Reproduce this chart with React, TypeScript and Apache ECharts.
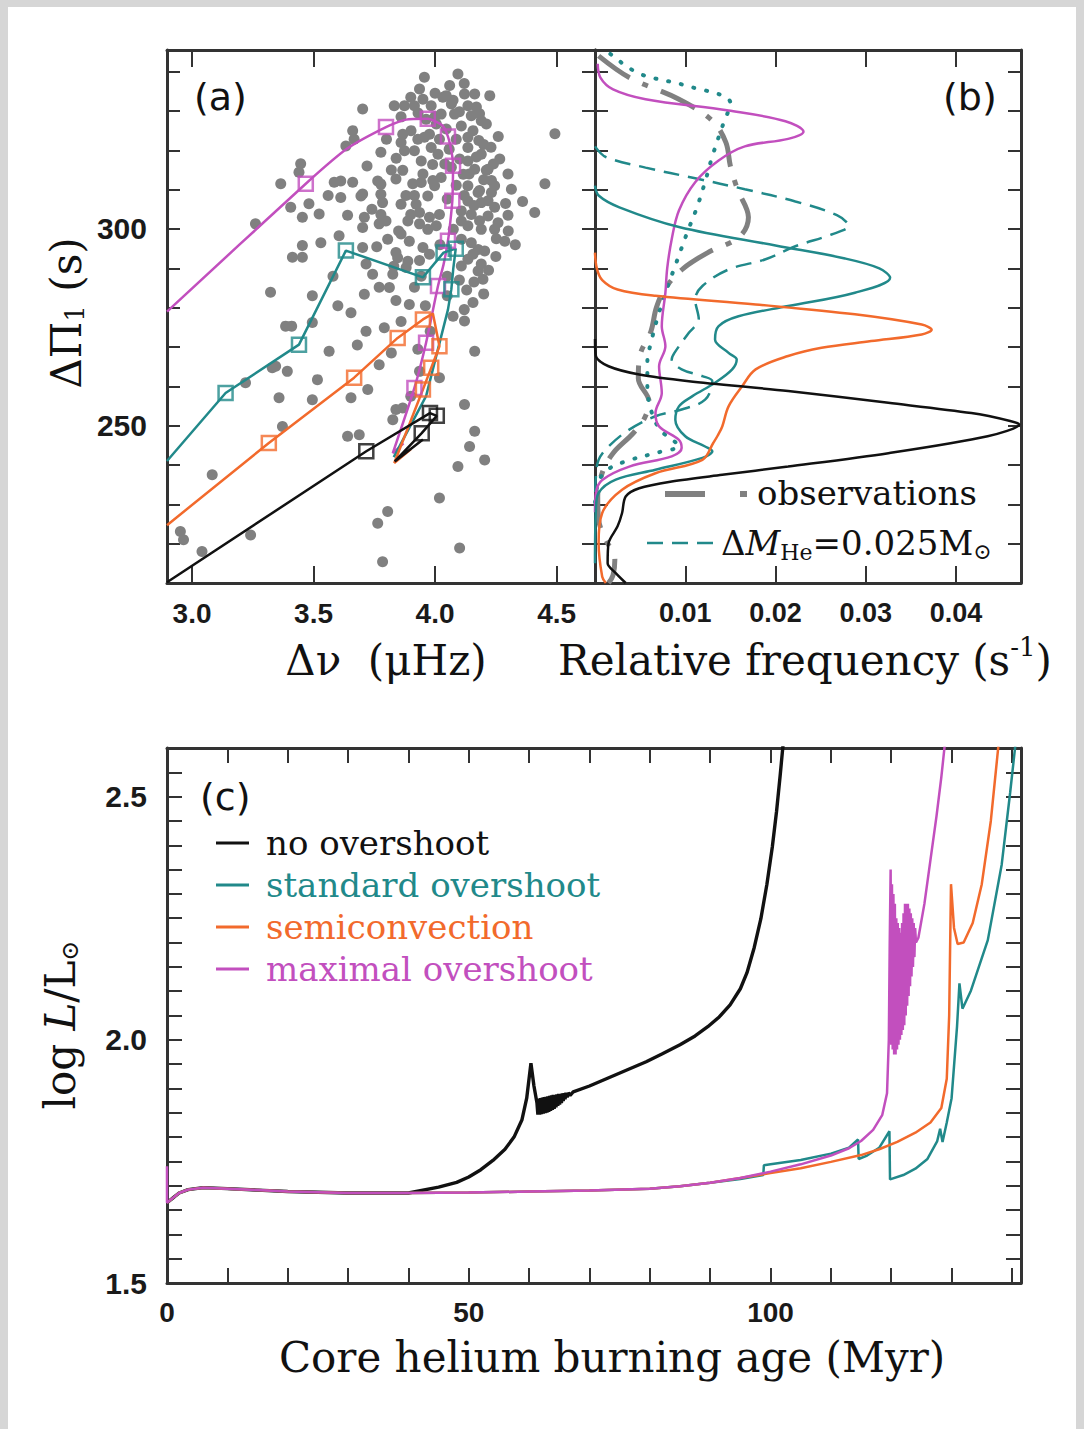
import React, { useEffect, useRef } from 'react';
import * as echarts from 'echarts';

const TEAL = '#21898a';
const ORANGE = '#f26a2c';
const MAGENTA = '#c24fbe';
const BLACK = '#111111';
const GRAY = '#808080';
const FRAME = '#333333';

// ---------- Panel (a): observed stars (Δν μHz, ΔΠ1 s) ----------
const observedStars: number[][] = [
  [4.094, 339.4], [3.956, 338.6], [3.936, 335.6], [3.702, 330.5], [4.046, 333.9], [4.121, 334.3], [4.163, 334.3], [4.225, 333.9],
  [3.832, 331.3], [3.874, 331.3], [3.915, 331.3], [3.984, 331.3], [4.067, 331.8], [4.135, 331.3], [4.025, 329.2], [4.080, 329.2],
  [4.149, 328.8], [4.190, 327.5], [4.108, 326.2], [4.156, 325.0], [4.135, 323.3], [3.867, 324.1], [3.901, 325.0], [3.860, 322.0],
  [3.929, 322.8], [3.956, 323.3], [3.661, 325.0], [3.667, 322.8], [3.633, 321.1], [3.777, 319.5], [3.874, 319.9], [3.915, 319.9],
  [3.943, 317.3], [3.984, 320.7], [4.012, 319.0], [4.135, 320.7], [4.190, 319.0], [4.135, 317.3], [4.266, 317.8], [4.218, 315.2],
  [4.163, 315.2], [3.764, 312.2], [3.839, 312.7], [3.612, 312.2], [4.025, 313.1],
  [3.612, 308.0], [3.695, 308.4], [3.777, 311.4], [3.777, 308.8], [3.784, 306.7], [3.777, 303.7], [3.798, 302.0], [3.860, 306.3],
  [3.922, 306.3], [3.936, 304.2], [3.888, 302.0], [3.998, 311.0], [3.970, 308.4], [3.943, 311.8], [4.135, 311.0], [4.177, 309.3],
  [4.232, 309.3], [4.245, 311.0], [4.314, 310.1], [4.135, 307.1], [4.190, 306.7], [4.108, 304.6], [4.018, 303.7], [4.005, 300.8],
  [3.970, 299.9], [4.108, 302.0], [4.135, 300.8], [4.218, 303.3], [4.259, 301.6], [4.190, 299.9], [4.245, 299.9], [4.301, 299.5],
  [4.410, 304.2], [3.702, 300.4], [3.805, 297.4], [3.894, 296.9], [3.950, 295.3], [3.839, 294.0], [3.888, 291.8], [3.846, 292.7],
  [4.108, 297.4], [4.149, 296.5], [4.177, 294.8], [4.204, 294.4], [4.287, 296.9], [4.135, 292.3], [4.108, 290.6], [4.177, 289.3],
  [4.197, 287.2], [3.812, 285.1], [3.709, 283.4], [3.894, 280.8], [4.156, 281.3], [3.943, 288.0],
  [4.493, 324.2], [4.452, 311.5],
  [3.447, 316.6], [3.440, 314.4], [3.365, 311.5], [3.261, 301.3], [3.406, 305.5], [3.454, 303.0], [3.481, 306.4], [3.523, 303.8],
  [3.585, 311.9], [3.454, 295.8], [3.413, 292.8], [3.454, 292.8], [3.323, 283.9], [3.495, 283.0],
  [4.183, 329.3], [4.211, 326.7], [4.032, 333.5], [4.074, 332.7], [4.170, 318.3], [4.211, 314.9], [4.232, 312.3], [4.183, 309.8],
  [4.218, 307.2], [4.245, 305.5], [4.183, 302.1], [4.252, 297.5], [4.190, 291.1], [4.156, 293.6],
  [3.867, 314.9], [3.908, 311.5], [3.915, 308.5], [3.991, 312.3], [3.977, 303.0], [3.936, 301.3], [3.860, 298.7], [3.881, 290.2],
  [3.936, 292.0], [3.977, 293.6], [3.915, 285.2], [3.839, 281.8], [3.743, 288.5], [3.770, 285.2], [3.826, 288.5],
  [3.661, 311.9], [3.702, 308.9], [3.709, 303.0], [3.770, 301.3], [3.702, 295.3], [3.605, 298.3], [3.716, 291.1],
  [3.963, 327.9], [4.005, 326.7], [4.046, 325.4], [4.087, 322.8], [4.058, 320.3], [4.101, 317.8], [4.116, 313.9], [4.067, 315.7],
  [3.977, 324.1], [4.018, 322.8], [4.087, 311.1], [4.050, 307.6], [4.075, 299.9], [4.149, 303.7],
  [3.654, 278.7], [3.716, 274.0], [3.791, 274.9], [3.385, 275.3], [3.410, 275.3], [3.495, 276.2], [3.564, 268.9], [3.392, 263.8],
  [3.344, 265.1], [3.516, 261.7], [3.495, 256.6], [3.358, 257.1], [3.654, 257.1], [3.723, 259.2], [3.770, 265.5], [3.929, 269.4],
  [3.936, 263.8], [4.018, 262.2], [4.163, 268.9], [4.121, 276.6], [4.074, 277.8], [4.121, 255.4], [4.163, 248.6], [4.142, 244.7],
  [4.204, 241.3], [4.094, 239.6], [4.018, 231.6], [3.805, 228.2], [3.764, 225.2], [3.784, 215.4], [4.101, 218.9], [3.083, 237.5],
  [2.952, 223.1], [2.965, 221.0], [3.041, 218.0], [3.241, 222.2], [3.640, 247.3], [3.688, 247.7], [3.839, 254.1], [3.867, 254.5],
  [3.826, 251.5], [3.372, 249.8], [3.220, 260.9], [3.330, 264.7], [3.900, 257.5],
  [3.90, 333.5], [3.95, 333.0], [4.00, 334.5], [4.06, 336.5], [4.12, 337.0], [3.86, 328.5], [3.93, 329.5], [4.00, 328.6],
  [4.10, 329.8], [4.17, 331.0], [3.80, 322.8], [3.84, 318.0], [3.99, 316.4], [4.04, 316.5], [4.18, 322.5], [4.23, 320.8],
  [4.26, 323.5], [4.30, 314.0], [4.29, 306.5], [4.25, 293.0], [4.22, 289.5], [4.16, 286.5], [4.13, 284.5], [4.20, 283.5],
  [4.12, 279.5], [4.10, 287.0], [4.24, 316.5], [4.20, 321.5], [4.14, 314.0], [4.12, 308.5], [4.16, 306.0], [4.20, 312.5],
  [3.72, 316.0], [3.74, 305.0], [3.64, 303.5], [3.56, 308.5], [3.53, 296.5], [3.58, 288.0], [3.60, 280.5], [3.68, 270.5],
  [3.82, 268.5], [3.86, 276.5], [3.96, 280.5], [3.98, 274.0], [4.05, 283.0], [3.88, 308.5], [3.82, 315.0], [3.95, 314.0],
  [3.90, 303.7], [3.85, 299.5], [4.02, 296.0], [4.05, 288.0], [3.76, 295.5], [3.83, 290.5], [4.30, 303.5], [4.33, 296.0],
  [4.36, 307.0],
];

// model tracks in panel (a)
const maximalTrack: number[][] = [
  [2.897, 279.0], [3.468, 311.5], [3.64, 320.5], [3.798, 325.9], [3.88, 327.8], [3.970, 328.0], [4.03, 326.3], [4.053, 323.5],
  [4.068, 319.5], [4.074, 316.1], [4.073, 311.0], [4.071, 307.2], [4.063, 302.0], [4.053, 297.0], [4.035, 291.0], [4.012, 285.5],
  [3.963, 271.1], [3.915, 259.6], [3.826, 243.0], [3.87, 245.5],
];
const maximalSquares: number[][] = [
  [3.468, 311.5], [3.798, 325.9], [3.970, 328.0], [4.053, 323.5], [4.074, 316.1], [4.071, 307.2], [4.053, 297.0], [4.012, 285.5],
  [3.963, 271.1], [3.915, 259.6],
];
const standardTrack: number[][] = [
  [2.897, 241.0], [3.138, 258.3], [3.440, 270.6], [3.633, 294.5], [3.950, 287.7], [4.035, 294.0], [4.085, 295.0], [4.075, 290.0],
  [4.067, 284.7], [4.053, 279.5], [3.963, 257.5], [3.830, 242.0],
];
const standardSquares: number[][] = [
  [3.138, 258.3], [3.440, 270.6], [3.633, 294.5], [3.950, 287.7], [4.035, 294.0], [4.085, 295.0], [4.067, 284.7],
];
const semiconvTrack: number[][] = [
  [2.897, 224.7], [3.316, 245.6], [3.667, 262.2], [3.846, 272.3], [3.950, 277.0], [3.991, 278.5], [4.018, 270.2], [3.984, 264.7],
  [3.950, 259.2], [3.832, 240.5], [3.90, 244.0],
];
const semiconvSquares: number[][] = [
  [3.316, 245.6], [3.667, 262.2], [3.846, 272.3], [3.950, 277.0], [4.018, 270.2], [3.984, 264.7], [3.950, 259.2],
];
const noOvershootTrack: number[][] = [
  [2.897, 210.2], [3.717, 243.5], [3.979, 253.2], [4.007, 252.5], [3.945, 248.1], [3.834, 240.9], [3.95, 246.5],
];
const noOvershootSquares: number[][] = [[3.717, 243.5], [3.979, 253.2], [4.007, 252.5], [3.945, 248.1]];

// ---------- Panel (b): relative frequency (s^-1, ΔΠ1 s) ----------
const obsFreq: number[][] = [
  [0.0004, 344], [0.0038, 338.5], [0.0093, 333], [0.0130, 327.5], [0.0145, 322], [0.0150, 316], [0.0158, 310], [0.0170, 303],
  [0.0160, 298], [0.0125, 294], [0.0098, 290], [0.0078, 285], [0.0068, 280], [0.0062, 274], [0.0050, 268], [0.0048, 262],
  [0.0060, 256], [0.0055, 252], [0.0042, 248], [0.0020, 243], [0.0008, 238], [0.0003, 232], [0.0004, 226], [0.0012, 221],
  [0.0022, 216], [0.0020, 212], [0.0015, 210],
];
const dottedFreq: number[][] = [
  [0.0017, 344.5], [0.0049, 339.5], [0.0100, 336.5], [0.0150, 332], [0.0141, 326], [0.0130, 318.5], [0.0122, 312], [0.0113, 305.5],
  [0.0102, 299], [0.0091, 292], [0.0080, 285], [0.0070, 278], [0.0063, 272], [0.0058, 266], [0.0058, 260], [0.0062, 254],
  [0.0072, 249], [0.0088, 246], [0.0093, 244.8], [0.0070, 243.2], [0.0035, 241], [0.0012, 238.5], [0.0003, 235], [0, 230],
];
const heliumFreq: number[][] = [
  [0, 321], [0.0012, 318.3], [0.0056, 315.6], [0.0111, 312.9], [0.0166, 310.1], [0.0222, 307.0], [0.0268, 303.5], [0.0281, 300.8],
  [0.0262, 298.6], [0.0222, 295.6], [0.0189, 292.3], [0.0148, 289.7], [0.0119, 285.5], [0.0111, 282.1], [0.0115, 277.0],
  [0.0104, 273.6], [0.0088, 268.5], [0.0085, 266.8], [0.0096, 264.3], [0.0119, 262.6], [0.0130, 261.3], [0.0122, 256.6],
  [0.0096, 254.1], [0.0067, 252.4], [0.0038, 249.0], [0.0015, 244.7], [0.0004, 241.3], [0.0001, 237.1], [0, 230],
];
const maximalFreq: number[][] = [
  [0.0003, 342], [0.0006, 338.5], [0.0020, 335.5], [0.0056, 333], [0.0148, 330.1], [0.0211, 327.4], [0.0231, 324.7], [0.0214, 322.9],
  [0.0166, 321.0], [0.0137, 317.4], [0.0111, 311.9], [0.0093, 304.7], [0.0085, 297.4], [0.0080, 290], [0.0078, 283.8],
  [0.0074, 275.3], [0.0078, 270.2], [0.0071, 265.1], [0.0074, 258.3], [0.0067, 253.2], [0.0071, 249.8], [0.0093, 246.4],
  [0.0096, 244.3], [0.0085, 242.2], [0.0038, 239.6], [0.0008, 236.2], [0.0001, 232.9], [0, 228],
];
const standardFreq: number[][] = [
  [0, 311], [0.0004, 308.5], [0.0027, 305.5], [0.0093, 300.5], [0.0200, 295.8], [0.0277, 292.5], [0.0315, 290], [0.0327, 287.6],
  [0.0288, 283.8], [0.0214, 280.4], [0.0159, 277.8], [0.0137, 275.3], [0.0133, 271.9], [0.0148, 268.5], [0.0157, 266.8],
  [0.0152, 264.3], [0.0133, 260.9], [0.0108, 257.5], [0.0093, 254.9], [0.0089, 251.5], [0.0100, 247.3], [0.0122, 244.7],
  [0.0130, 243.5], [0.0119, 241.8], [0.0067, 238.8], [0.0023, 236.3], [0.0004, 232.9], [0.0001, 228.6], [0, 215],
];
const semiconvFreq: number[][] = [
  [0, 294], [0.0002, 290], [0.0008, 287.0], [0.0025, 284.6], [0.0067, 283.0], [0.0178, 280.8], [0.0288, 278.3], [0.0362, 275.7],
  [0.0373, 274.4], [0.0362, 273.2], [0.0306, 271.5], [0.0251, 269.8], [0.0214, 267.7], [0.0178, 264.3], [0.0163, 260.0],
  [0.0148, 254.9], [0.0141, 249.8], [0.0136, 247.5], [0.0131, 245.6], [0.0119, 241.3], [0.0067, 237.9], [0.0030, 233.7],
  [0.0008, 227.8], [0.0004, 220.1], [0.0008, 211.6], [0.0012, 210],
];
const noOvershootFreq: number[][] = [
  [0, 272], [0.0001, 267.7], [0.0015, 265.1], [0.0049, 263.0], [0.0104, 261.3], [0.0214, 258.8], [0.0325, 255.8], [0.0417, 253.2],
  [0.0460, 251.2], [0.0470, 250.3], [0.0435, 247.3], [0.0325, 243.0], [0.0214, 239.6], [0.0141, 237.5], [0.0085, 235.8],
  [0.0049, 234.1], [0.0034, 232.0], [0.0030, 227.8], [0.0025, 224.4], [0.0015, 220.1], [0.0014, 215.0], [0.0023, 212.5],
  [0.0034, 210.0],
];

// ---------- Panel (c): luminosity vs core He burning age (Myr, log L/Lsun) ----------
const earlyPhase: number[][] = [
  [0, 1.665], [1, 1.675], [2, 1.685], [3.5, 1.692], [6, 1.696], [10, 1.694], [15, 1.691], [20, 1.688], [30, 1.685], [40, 1.685],
];
const noOvershootLum: number[][] = [
  [45, 1.697], [48, 1.707], [50, 1.718], [52, 1.733], [54, 1.752], [56, 1.775], [57.5, 1.80], [58.8, 1.835], [59.6, 1.88],
  [60.3, 1.952], [60.8, 1.905], [61.3, 1.870], [61.45, 1.846], [61.6, 1.879], [61.75, 1.846], [61.9, 1.880], [62.05, 1.847],
  [62.2, 1.881], [62.35, 1.848], [62.5, 1.882], [62.65, 1.849], [62.8, 1.883], [62.95, 1.850], [63.1, 1.884], [63.25, 1.852],
  [63.4, 1.885], [63.55, 1.854], [63.7, 1.886], [63.85, 1.856], [64.0, 1.887], [64.15, 1.858], [64.3, 1.887], [64.45, 1.861],
  [64.6, 1.888], [64.75, 1.864], [64.9, 1.889], [65.05, 1.867], [65.2, 1.889], [65.35, 1.870], [65.5, 1.890], [65.65, 1.874],
  [65.8, 1.890], [65.95, 1.878], [66.1, 1.891], [66.3, 1.882], [66.5, 1.891], [66.8, 1.886], [67.3, 1.893],
  [70, 1.905], [73, 1.921], [76, 1.937], [79.4, 1.955], [82, 1.971], [85, 1.990], [87.5, 2.008], [89.6, 2.027], [91.5, 2.047],
  [93.3, 2.072], [95, 2.105], [96.1, 2.138], [97.3, 2.19], [98.4, 2.249], [99.4, 2.32], [100.3, 2.397], [101, 2.47],
  [101.6, 2.544], [102.1, 2.61],
];
const mainSequenceLate: number[][] = [
  [50, 1.686], [60, 1.688], [70, 1.690], [80, 1.694], [85, 1.699], [90, 1.706],
];
const standardLum: number[][] = [
  [95, 1.714], [98.8, 1.722], [98.9, 1.742], [100, 1.744], [105, 1.753], [110, 1.766], [113, 1.778], [114.5, 1.795],
  [114.6, 1.755], [116, 1.762], [118, 1.778], [119.7, 1.812], [119.8, 1.713], [122, 1.722], [124, 1.735], [126, 1.755],
  [127.6, 1.791], [128.1, 1.817], [128.5, 1.790], [129.2, 1.83], [130, 1.88], [130.9, 2.027], [131.3, 2.116], [131.8, 2.064],
  [133.2, 2.101], [136, 2.205], [138.3, 2.36], [139.7, 2.508], [140.6, 2.61],
];
const semiconvLum: number[][] = [
  [95, 1.716], [100, 1.726], [105, 1.736], [110, 1.749], [115, 1.763], [118, 1.775], [121, 1.790], [124, 1.809], [126.5, 1.830],
  [128.3, 1.86], [129.2, 1.92], [129.6, 2.05], [129.9, 2.32], [130.4, 2.23], [131, 2.197], [132, 2.20], [133.5, 2.24],
  [135, 2.32], [136.5, 2.45], [137.8, 2.61],
];
const maximalLum: number[][] = [
  [95, 1.716], [100, 1.729], [105, 1.744], [110, 1.762], [113, 1.777], [115, 1.792], [117, 1.815], [118.5, 1.845], [119.3, 1.89],
  [119.6, 2.00], [119.75, 2.20], [119.9, 2.35], [120.0, 1.99], [120.12, 2.32], [120.24, 1.98], [120.36, 2.30], [120.48, 1.97],
  [120.6, 2.28], [120.72, 1.97], [120.84, 2.25], [120.96, 1.98], [121.08, 2.24], [121.2, 1.99], [121.32, 2.23], [121.44, 2.00],
  [121.56, 2.22], [121.68, 2.01], [121.8, 2.24], [121.92, 2.02], [122.04, 2.26], [122.16, 2.03], [122.28, 2.28], [122.4, 2.05],
  [122.52, 2.28], [122.64, 2.07], [122.76, 2.28], [122.88, 2.09], [123.0, 2.27], [123.12, 2.11], [123.24, 2.26], [123.36, 2.13],
  [123.48, 2.25], [123.6, 2.15], [123.72, 2.24], [123.84, 2.17], [123.96, 2.23], [124.1, 2.20], [124.5, 2.21],
  [125.5, 2.28], [126.5, 2.37], [127.5, 2.46], [128.3, 2.54], [128.9, 2.61],
];
const maximalStart: number[][] = [[0, 1.74]];

// ---------- ticks & labels ----------
const aTicksX = [3.0, 3.5, 4.0, 4.5];
const abTicksY = [220, 230, 240, 250, 260, 270, 280, 290, 300, 310, 320, 330, 340];
const abLabelsY = [250, 300];
const bTicksX = [0.01, 0.02, 0.03, 0.04];
const cTicksX = [10, 20, 30, 40, 50, 60, 70, 80, 90, 100, 110, 120, 130, 140];
const cLabelsX = [0, 50, 100];
const cTicksY = [1.55, 1.6, 1.65, 1.7, 1.75, 1.8, 1.85, 1.9, 1.95, 2.0, 2.05, 2.1, 2.15, 2.2, 2.25, 2.3, 2.35, 2.4, 2.45, 2.5, 2.55];
const cLabelsY = [1.5, 2.0, 2.5];
const legendNames = ['no overshoot', 'standard overshoot', 'semiconvection', 'maximal overshoot'];
const legendColors = [BLACK, TEAL, ORANGE, MAGENTA];

const SERIF = '"DejaVu Serif", "Liberation Serif", serif';
const TICKFONT = '"Liberation Sans", Arial, sans-serif';

function axis(grid: number, position: string, min: number, max: number, ticks: number[], tickLen: number,
  labels: number[] | null, fmt: ((v: number) => string) | null, margin = 18, fontSize = 30) {
  return {
    type: 'value', gridIndex: grid, position, min, max,
    axisLine: { show: true, onZero: false, lineStyle: { color: FRAME, width: 3 } },
    axisTick: { show: true, inside: true, length: tickLen, customValues: ticks, lineStyle: { color: FRAME, width: 2 } },
    axisLabel: labels ? {
      show: true, customValues: labels, formatter: fmt, margin, fontSize, fontWeight: 'bold', fontFamily: TICKFONT, color: '#1a1a1a',
    } : { show: false },
    splitLine: { show: false },
  };
}

function lineSeries(name: string, x: number, y: number, data: number[][], color: string, width: number, extra: any = {}) {
  return {
    name, type: 'line', xAxisIndex: x, yAxisIndex: y, data, symbol: 'none', showSymbol: false,
    lineStyle: { color, width, ...(extra.lineStyle || {}) }, smooth: extra.smooth ?? false, clip: true, silent: true, z: extra.z ?? 3,
  };
}

function squares(data: number[][], color: string) {
  return {
    type: 'scatter', xAxisIndex: 0, yAxisIndex: 0, data, symbol: 'rect', symbolSize: 14, silent: true, z: 4,
    itemStyle: { color: 'rgba(0,0,0,0)', borderColor: color, borderWidth: 2.5 },
  };
}

export default function App() {
  const ref = useRef<HTMLDivElement>(null);

  useEffect(() => {
    document.body.style.margin = '0';
    const chart = echarts.init(ref.current!, null, { renderer: 'svg' });

    const ctx = document.createElement('canvas').getContext('2d')!;
    const measure = (t: string, font: string) => { ctx.font = font; return ctx.measureText(t).width; };
    type Part = { t: string; font: string; dy?: number };
    const run = (parts: Part[], x: number, y: number, align: 'left' | 'center', fill: string) => {
      const ws = parts.map((p) => measure(p.t, p.font));
      const total = ws.reduce((a, b) => a + b, 0);
      let cx = align === 'center' ? x - total / 2 : x;
      return parts.map((p, i) => {
        const el = {
          type: 'text', x: cx, y: y + (p.dy || 0), silent: true,
          style: { text: p.t, font: p.font, fill, align: 'left', verticalAlign: 'middle', textAlign: 'left', textVerticalAlign: 'middle' },
        };
        cx += ws[i];
        return el;
      });
    };
    const F42 = `42px ${SERIF}`;
    const F34 = `34px ${SERIF}`;
    const TAG = '38px "DejaVu Sans", sans-serif';

    const graphics: any[] = [
      ...run([{ t: '(a)', font: TAG }], 194, 97, 'left', '#111'),
      ...run([{ t: '(b)', font: TAG }], 943, 97, 'left', '#111'),
      ...run([{ t: '(c)', font: TAG }], 200, 797, 'left', '#111'),
      ...run([{ t: 'Δν  (μHz)', font: F42 }], 386, 660, 'center', '#111'),
      ...run([{ t: 'Relative frequency (s', font: F42 }, { t: '-1', font: `26px ${SERIF}`, dy: -13 }, { t: ')', font: F42 }], 805, 660, 'center', '#111'),
      ...run([{ t: 'Core helium burning age (Myr)', font: F42 }], 612, 1357, 'center', '#111'),
      {
        type: 'group', x: 66, y: 313, rotation: Math.PI / 2,
        children: run([{ t: 'ΔΠ', font: F42 }, { t: '1', font: `26px ${SERIF}`, dy: 9 }, { t: ' (s)', font: F42 }], 0, 0, 'center', '#111'),
      },
      {
        type: 'group', x: 60, y: 1025, rotation: Math.PI / 2,
        children: run([{ t: 'log ', font: F42 }, { t: 'L', font: `italic ${F42}` }, { t: '/L', font: F42 }, { t: '⊙', font: `24px ${SERIF}`, dy: 10 }], 0, 0, 'center', '#111'),
      },
      // legend (b)
      { type: 'line', silent: true, shape: { x1: 665, y1: 494, x2: 750, y2: 494 }, style: { stroke: GRAY, lineWidth: 6, lineDash: [40, 35, 7, 40] } },
      ...run([{ t: 'observations', font: F34 }], 757, 493, 'left', '#111'),
      { type: 'line', silent: true, shape: { x1: 647, y1: 543, x2: 714, y2: 543 }, style: { stroke: TEAL, lineWidth: 2.5, lineDash: [16, 9] } },
      ...run([
        { t: 'Δ', font: F34 }, { t: 'M', font: `italic ${F34}` }, { t: 'He', font: `22px ${SERIF}`, dy: 9 },
        { t: '=0.025M', font: F34 }, { t: '⊙', font: `22px ${SERIF}`, dy: 8 },
      ], 721, 543, 'left', '#111'),
    ];
    legendNames.forEach((name, i) => {
      const y = 843 + i * 42;
      graphics.push({ type: 'line', silent: true, shape: { x1: 216, y1: y, x2: 249, y2: y }, style: { stroke: legendColors[i], lineWidth: 3 } });
      graphics.push(...run([{ t: name, font: F34 }], 266, y, 'left', legendColors[i]));
    });

    const f1 = (v: number) => v.toFixed(1);
    const f0 = (v: number) => String(Math.round(v));
    const f2 = (v: number) => v.toFixed(2);

    const option: any = {
      animation: false,
      backgroundColor: 'transparent',
      grid: [
        { left: 167, top: 50, width: 428, height: 533 },
        { left: 595, top: 50, width: 426, height: 533 },
        { left: 167, top: 748, width: 854, height: 535 },
      ],
      xAxis: [
        axis(0, 'bottom', 2.897, 4.658, aTicksX, 17, aTicksX, f1, 16, 28),
        axis(0, 'top', 2.897, 4.658, aTicksX, 17, null, null),
        axis(1, 'bottom', 0, 0.0472, bTicksX, 17, bTicksX, f2, 16, 27),
        axis(1, 'top', 0, 0.0472, bTicksX, 17, null, null),
        axis(2, 'bottom', 0, 141.5, cTicksX, 15, cLabelsX, f0, 15, 28),
        axis(2, 'top', 0, 141.5, cTicksX, 15, null, null),
      ],
      yAxis: [
        axis(0, 'left', 210, 345.5, abTicksY, 13, abLabelsY, f0, 20, 30),
        axis(0, 'right', 210, 345.5, abTicksY, 13, null, null),
        axis(1, 'left', 210, 345.5, abTicksY, 13, null, null),
        axis(1, 'right', 210, 345.5, abTicksY, 13, null, null),
        axis(2, 'left', 1.5, 2.6, cTicksY, 15, cLabelsY, f1, 20, 30),
        axis(2, 'right', 1.5, 2.6, cTicksY, 15, null, null),
      ],
      series: [
        { type: 'scatter', xAxisIndex: 0, yAxisIndex: 0, data: observedStars, symbol: 'circle', symbolSize: 11, silent: true, z: 2,
          itemStyle: { color: GRAY, opacity: 1 } },
        lineSeries('maxA', 0, 0, maximalTrack, MAGENTA, 2.5, { smooth: 0.2 }),
        lineSeries('stdA', 0, 0, standardTrack, TEAL, 2.5),
        lineSeries('semiA', 0, 0, semiconvTrack, ORANGE, 2.5),
        lineSeries('noA', 0, 0, noOvershootTrack, BLACK, 2.5),
        squares(maximalSquares, MAGENTA),
        squares(standardSquares, TEAL),
        squares(semiconvSquares, ORANGE),
        squares(noOvershootSquares, BLACK),

        lineSeries('obsB', 2, 2, obsFreq, GRAY, 5, { smooth: 0.35, lineStyle: { type: [38, 14, 6, 14] }, z: 2 }),
        lineSeries('dotB', 2, 2, dottedFreq, TEAL, 4, { smooth: 0.35, lineStyle: { type: [1, 12], cap: 'round' }, z: 2 }),
        lineSeries('heB', 2, 2, heliumFreq, TEAL, 2.5, { smooth: 0.35, lineStyle: { type: [16, 9] } }),
        lineSeries('maxB', 2, 2, maximalFreq, MAGENTA, 2.5, { smooth: 0.35 }),
        lineSeries('stdB', 2, 2, standardFreq, TEAL, 2.5, { smooth: 0.35 }),
        lineSeries('semiB', 2, 2, semiconvFreq, ORANGE, 2.5, { smooth: 0.35 }),
        lineSeries('noB', 2, 2, noOvershootFreq, BLACK, 2.5, { smooth: 0.3 }),

        lineSeries('noC', 4, 4, [...earlyPhase, ...noOvershootLum], BLACK, 3.4),
        lineSeries('stdC', 4, 4, [...earlyPhase, ...mainSequenceLate, ...standardLum], TEAL, 2.5),
        lineSeries('semiC', 4, 4, [...earlyPhase, ...mainSequenceLate, ...semiconvLum], ORANGE, 2.5),
        lineSeries('maxC', 4, 4, [...maximalStart, ...earlyPhase, ...mainSequenceLate, ...maximalLum], MAGENTA, 2.5),
      ],
      graphic: graphics,
    };
    chart.setOption(option);
    return () => chart.dispose();
  }, []);

  return (
    <div style={{ position: 'relative', width: 1084, height: 1429, background: '#d6d6d6', overflow: 'hidden' }}>
      <div style={{ position: 'absolute', left: 8, top: 7, width: 1068, height: 1422, background: '#ffffff' }} />
      <div ref={ref} style={{ position: 'absolute', left: 0, top: 0, width: 1084, height: 1429 }} />
    </div>
  );
}
